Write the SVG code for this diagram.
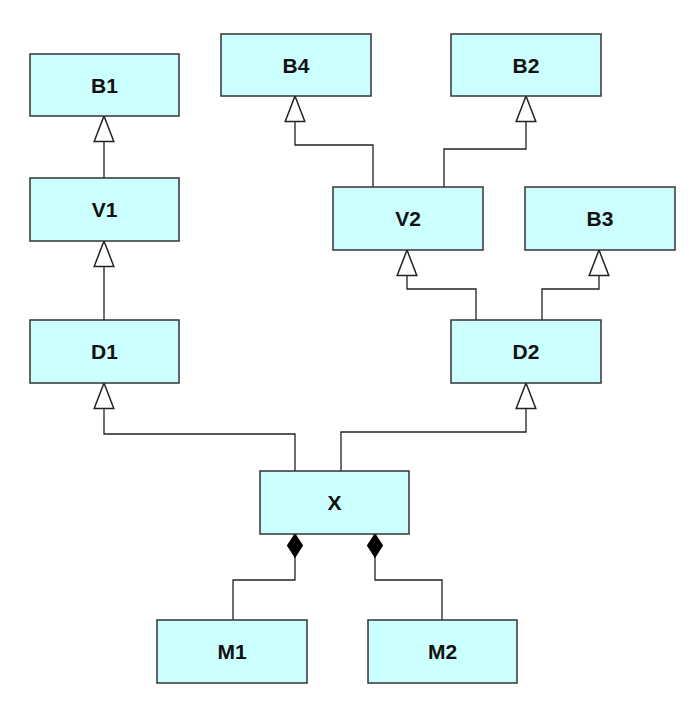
<svg xmlns="http://www.w3.org/2000/svg" width="698" height="718" viewBox="0 0 698 718">
<style>
.box{fill:#CCFFFF;stroke:#333;stroke-width:1.5}
.lbl{font-family:"Liberation Sans",Arial,sans-serif;font-size:21px;font-weight:bold;fill:#111;text-anchor:middle}
.con{fill:none;stroke:#222;stroke-width:1.3}
.gen{marker-end:url(#tri)}
.comp{marker-start:url(#dia)}
</style>
<defs>
<marker id="tri" markerUnits="userSpaceOnUse" markerWidth="30" markerHeight="30" refX="0" refY="0" viewBox="-24 -12 26 24" orient="auto" overflow="visible">
<path d="M0,0 L-22,-8.5 L-22,8.5 Z" fill="#fff" stroke="#222" stroke-width="1.3"/>
</marker>
<marker id="dia" markerUnits="userSpaceOnUse" markerWidth="30" markerHeight="30" refX="0" refY="0" viewBox="-2 -8 22 16" orient="auto" overflow="visible">
<path d="M0,0 L8.5,-5.5 L17,0 L8.5,5.5 Z" fill="#000" stroke="#000" stroke-width="0.8"/>
</marker>
</defs>
<rect width="698" height="718" fill="#fff"/>
<g id="connectors">
<path class="con gen" d="M104,178 V116"/>
<path class="con gen" d="M104,320 V241"/>
<path class="con gen" d="M295,471 V434 H104 V383"/>
<path class="con gen" d="M341,471 V432 H526 V383"/>
<path class="con gen" d="M373,187 V145 H295 V96"/>
<path class="con gen" d="M444,187 V149 H526 V96"/>
<path class="con gen" d="M476,320 V289 H407 V250"/>
<path class="con gen" d="M542,320 V289 H599 V250"/>
<path class="con comp" d="M295,534 V580 H233 V620"/>
<path class="con comp" d="M375,534 V580 H442 V620"/>
</g>
<g id="B1"><rect class="box" x="30" y="54" width="149" height="62"/><text class="lbl" x="104.5" y="92.5">B1</text></g>
<g id="V1"><rect class="box" x="30" y="178" width="149" height="63"/><text class="lbl" x="104.5" y="217">V1</text></g>
<g id="D1"><rect class="box" x="30" y="320" width="149" height="63"/><text class="lbl" x="104.5" y="359">D1</text></g>
<g id="B4"><rect class="box" x="221" y="34" width="150" height="62"/><text class="lbl" x="296" y="72.5">B4</text></g>
<g id="B2"><rect class="box" x="451" y="34" width="150" height="62"/><text class="lbl" x="526" y="72.5">B2</text></g>
<g id="V2"><rect class="box" x="333" y="187" width="150" height="63"/><text class="lbl" x="408" y="226">V2</text></g>
<g id="B3"><rect class="box" x="525" y="187" width="150" height="63"/><text class="lbl" x="600" y="226">B3</text></g>
<g id="D2"><rect class="box" x="451" y="320" width="150" height="63"/><text class="lbl" x="526" y="359">D2</text></g>
<g id="X"><rect class="box" x="260" y="471" width="149" height="63"/><text class="lbl" x="334.5" y="510">X</text></g>
<g id="M1"><rect class="box" x="157" y="620" width="150" height="63"/><text class="lbl" x="232" y="659">M1</text></g>
<g id="M2"><rect class="box" x="368" y="620" width="149" height="63"/><text class="lbl" x="442.5" y="659">M2</text></g>
</svg>
